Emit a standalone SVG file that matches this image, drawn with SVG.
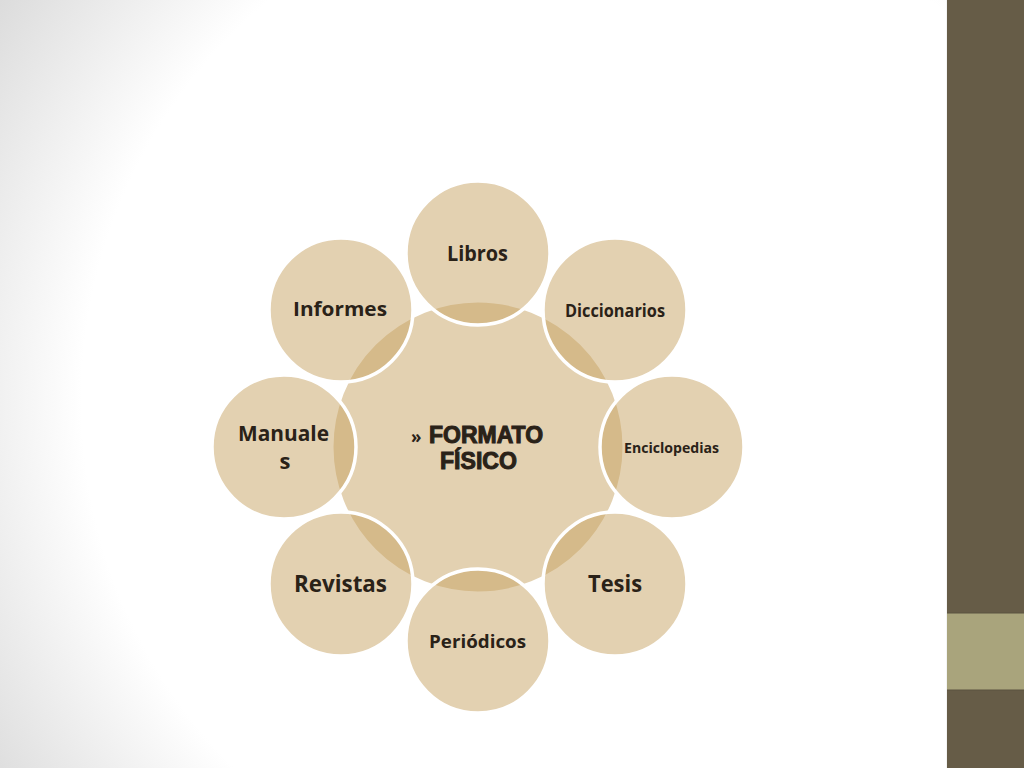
<svg xmlns="http://www.w3.org/2000/svg" width="1024" height="768" viewBox="0 0 1024 768">
<defs>
<radialGradient id="bg" gradientUnits="userSpaceOnUse" cx="600" cy="400" r="720">
<stop offset="0" stop-color="#ffffff"/>
<stop offset="0.72" stop-color="#ffffff"/>
<stop offset="1" stop-color="#dcdcdc"/>
</radialGradient>
</defs>
<style>
.center{fill:#e3d1b1;stroke:#ffffff;stroke-width:3}
.outer{fill:#c7a363;fill-opacity:0.5;stroke:#ffffff;stroke-width:3.5}
.lbl{font-family:"Open Sans","Liberation Sans",sans-serif;font-weight:700;fill:#2a2218;text-anchor:start}
.big{font-family:"Liberation Sans","DejaVu Sans",sans-serif;font-weight:900;fill:#2a2218;stroke:#2a2218;stroke-width:1}
</style>
<rect x="0" y="0" width="1024" height="768" fill="url(#bg)"/>
<g id="sidebar">
<rect x="947" y="0" width="77" height="768" fill="#665c47"/>
<rect x="947" y="613" width="77" height="77" fill="#a9a47c"/>
<line x1="947" y1="613" x2="1024" y2="613" stroke="#5a5340" stroke-width="1"/>
<line x1="947" y1="690" x2="1024" y2="690" stroke="#5a5340" stroke-width="1"/>
<line x1="946.5" y1="0" x2="946.5" y2="768" stroke="#f4f4f4" stroke-width="1"/>
</g>
<g id="connectors"></g>
<g id="center-node">
<circle class="center" cx="478" cy="447" r="146"/>
</g>
<g id="libros">
<circle class="outer" cx="478" cy="253" r="72"/>
<text class="lbl" x="447" y="261" font-size="22" textLength="61" lengthAdjust="spacingAndGlyphs">Libros</text>
</g>
<g id="diccionarios">
<circle class="outer" cx="615" cy="310" r="72"/>
<text class="lbl" x="565" y="317" font-size="18" textLength="100" lengthAdjust="spacingAndGlyphs">Diccionarios</text>
</g>
<g id="enciclopedias">
<circle class="outer" cx="672" cy="447" r="72"/>
<text class="lbl" x="624" y="453" font-size="15" textLength="95" lengthAdjust="spacingAndGlyphs">Enciclopedias</text>
</g>
<g id="tesis">
<circle class="outer" cx="615" cy="584" r="72"/>
<text class="lbl" x="588" y="592" font-size="23" textLength="54" lengthAdjust="spacingAndGlyphs">Tesis</text>
</g>
<g id="periodicos">
<circle class="outer" cx="478" cy="641" r="72"/>
<text class="lbl" x="429" y="648" font-size="18" textLength="97" lengthAdjust="spacingAndGlyphs">Periódicos</text>
</g>
<g id="revistas">
<circle class="outer" cx="341" cy="584" r="72"/>
<text class="lbl" x="294" y="592" font-size="23" textLength="93" lengthAdjust="spacingAndGlyphs">Revistas</text>
</g>
<g id="manuales">
<circle class="outer" cx="284" cy="447" r="72"/>
<text class="lbl" x="238" y="441" font-size="22" textLength="91" lengthAdjust="spacingAndGlyphs">Manuale</text>
<text class="lbl" x="285" y="469" font-size="22" style="text-anchor:middle">s</text>
</g>
<g id="informes">
<circle class="outer" cx="341" cy="310" r="72"/>
<text class="lbl" x="293" y="316" font-size="20" textLength="94" lengthAdjust="spacingAndGlyphs">Informes</text>
</g>
<g id="center-label">
<text x="411" y="443" font-family="'Open Sans','Liberation Sans',sans-serif" font-size="17" font-weight="700" fill="#2a2218">»</text>
<text class="big" x="429" y="443" font-size="23" textLength="114" lengthAdjust="spacingAndGlyphs">FORMATO</text>
<text class="big" x="440" y="469" font-size="23" textLength="77" lengthAdjust="spacingAndGlyphs">FÍSICO</text>
</g>
</svg>
